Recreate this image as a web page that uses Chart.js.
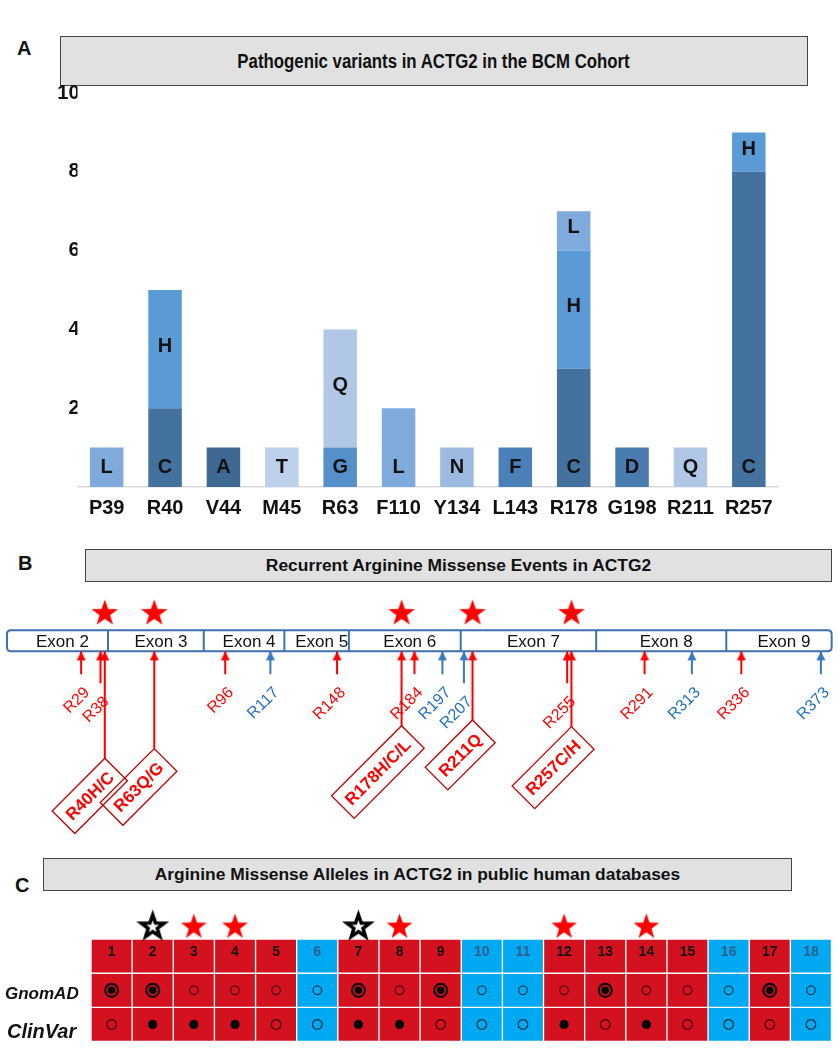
<!DOCTYPE html>
<html>
<head>
<meta charset="utf-8">
<script src="https://cdn.jsdelivr.net/npm/chart.js@4.4.1/dist/chart.umd.min.js"></script>
<style>
  body { margin: 0; width: 840px; height: 1050px; position: relative; background: #fff; overflow: hidden;
         font-family: "Liberation Sans", Arial, sans-serif; color: #111; }
  canvas { position: absolute; left: 0; }
  .panel { position: absolute; font-weight: bold; font-size: 20px; }
  .hdr { position: absolute; box-sizing: border-box; background: #e1e1e1; border: 1.5px solid #444;
         display: flex; align-items: center; justify-content: center; font-weight: bold; }
  .hdr span { display: inline-block; white-space: nowrap; }
  .row { position: absolute; font-weight: bold; font-style: italic; }
</style>
</head>
<body>
<div class="panel" style="left:17px;top:37px">A</div>
<div class="hdr" style="left:60px;top:36px;width:748px;height:50px;font-size:20px"><span style="transform:scaleX(0.84)">Pathogenic variants in ACTG2 in the BCM Cohort</span></div>
<canvas id="chartA" width="840" height="450" style="top:80px"></canvas>

<div class="panel" style="left:18px;top:552px">B</div>
<div class="hdr" style="left:85px;top:549px;width:747px;height:33px;font-size:17.4px">Recurrent Arginine Missense Events in ACTG2</div>
<canvas id="chartB" width="840" height="260" style="top:590px"></canvas>

<div class="panel" style="left:15px;top:874px">C</div>
<div class="hdr" style="left:43px;top:858px;width:749px;height:33px;font-size:17.4px">Arginine Missense Alleles in ACTG2 in public human databases</div>
<canvas id="chartC" width="840" height="155" style="top:895px"></canvas>
<div class="row" style="left:5px;top:984px;font-size:17px">GnomAD</div>
<div class="row" style="left:7px;top:1020px;font-size:20px">ClinVar</div>

<script>
// ---------- Panel A: variants in the BCM cohort ----------
const variantSites = ['P39', 'R40', 'V44', 'M45', 'R63', 'F110', 'Y134', 'L143', 'R178', 'G198', 'R211', 'R257'];
const layer1Counts = [1, 2, 1, 1, 1, 2, 1, 1, 3, 1, 1, 8];
const layer1Aa     = ['L', 'C', 'A', 'T', 'G', 'L', 'N', 'F', 'C', 'D', 'Q', 'C'];
const layer2Counts = [0, 3, 0, 0, 3, 0, 0, 0, 3, 0, 0, 1];
const layer2Aa     = ['', 'H', '', '', 'Q', '', '', '', 'H', '', '', 'H'];
const layer3Counts = [0, 0, 0, 0, 0, 0, 0, 0, 1, 0, 0, 0];
const layer3Aa     = ['', '', '', '', '', '', '', '', 'L', '', '', ''];

// ---------- Panel B: arginine positions along the exons ----------
const exonNames  = ['Exon 2', 'Exon 3', 'Exon 4', 'Exon 5', 'Exon 6', 'Exon 7', 'Exon 8', 'Exon 9'];
const exonBounds = [-5.5, 41.5, 86, 123.5, 153.5, 205.5, 268.5, 329, 378];
const argPositions = [29, 38, 40, 63, 96, 117, 148, 178, 184, 197, 207, 211, 255, 257, 291, 313, 336, 373];
const argGroup     = ['r', 'r', 'r', 'r', 'r', 'b', 'r', 'r', 'r', 'b', 'b', 'r', 'r', 'r', 'r', 'b', 'r', 'b'];
const stemLength   = [1, 1.4, 4.67, 4.25, 1, 1, 1, 3.25, 1, 1, 1.4, 3.0, 1.4, 3.29, 1, 1, 1, 1];
const recurrentPos   = [40, 63, 178, 211, 257];
const recurrentLabel = ['R40H/C', 'R63Q/G', 'R178H/C/L', 'R211Q', 'R257C/H'];

// ---------- Panel C: public databases ----------
const gnomadState  = ['ring', 'ring', 'open', 'open', 'open', 'open', 'ring', 'open', 'ring', 'open', 'open', 'open', 'ring', 'open', 'open', 'open', 'ring', 'open'];
const clinvarState = ['open', 'dot', 'dot', 'dot', 'open', 'open', 'dot', 'dot', 'open', 'open', 'open', 'dot', 'open', 'dot', 'open', 'open', 'open', 'open'];
const columnStar   = ['', 'outline', 'red', 'red', '', '', 'outline', 'red', '', '', '', 'red', '', 'red', '', '', '', ''];

const FONT = '"Liberation Sans", Arial, sans-serif';
const aaColour = {
  C: '#44729e', H: '#5b9bd5', L: '#7eaadc', A: '#3f6993', T: '#bdd1eb',
  G: '#5690cb', Q: '#b0c8e6', N: '#9cb9e0', F: '#4c80b9', D: '#4b7cb0', '': '#fff'
};
const RED = '#ff0000', BLUE = '#3b78c0';

// star and arrow-head images used as point styles
function makeStar(R, fill, stroke, lw) {
  lw = lw || 0;
  const size = Math.ceil(2 * R + 2 * lw + 2);
  const c = document.createElement('canvas');
  c.width = size; c.height = size;
  const g = c.getContext('2d');
  const cx = size / 2, cy = size / 2 + R * 0.09, r = R * 0.4;
  g.beginPath();
  for (let i = 0; i < 10; i++) {
    const a = -Math.PI / 2 + i * Math.PI / 5;
    const rr = i % 2 ? r : R;
    g.lineTo(cx + rr * Math.cos(a), cy + rr * Math.sin(a));
  }
  g.closePath();
  g.fillStyle = fill;
  g.fill();
  if (stroke) { g.lineWidth = lw; g.strokeStyle = stroke; g.lineJoin = 'miter'; g.stroke(); }
  return c;
}
function makeHead(colour) {
  const c = document.createElement('canvas');
  c.width = 10; c.height = 20;
  const g = c.getContext('2d');
  g.fillStyle = colour;
  g.beginPath(); g.moveTo(5, 10); g.lineTo(9.5, 19); g.lineTo(0.5, 19); g.closePath(); g.fill();
  return c;
}
const starB = makeStar(14, RED);
const starRedC = makeStar(13.5, RED);
const starOutlineC = makeStar(12, '#fff', '#000', 3.5);
const headImg = { r: makeHead(RED), b: makeHead(BLUE) };

// ---------- Chart A ----------
const letterPlugin = {
  id: 'letters',
  afterDatasetsDraw(chart) {
    const ctx = chart.ctx;
    ctx.save();
    ctx.font = 'bold 20px ' + FONT;
    ctx.fillStyle = '#111';
    ctx.textAlign = 'center';
    ctx.textBaseline = 'middle';
    chart.data.datasets.forEach((ds, di) => {
      chart.getDatasetMeta(di).data.forEach((bar, i) => {
        if (!ds.data[i]) return;
        const y = di === 0 ? bar.base - 20 : (bar.y + bar.base) / 2 - 3;
        ctx.fillText(ds.aa[i], bar.x, y);
      });
    });
    ctx.restore();
  }
};

new Chart(document.getElementById('chartA'), {
  type: 'bar',
  data: {
    labels: variantSites,
    datasets: [
      { data: layer1Counts, aa: layer1Aa, backgroundColor: layer1Aa.map(a => aaColour[a]) },
      { data: layer2Counts, aa: layer2Aa, backgroundColor: layer2Aa.map(a => aaColour[a]) },
      { data: layer3Counts, aa: layer3Aa, backgroundColor: layer3Aa.map(a => aaColour[a]) }
    ]
  },
  options: {
    responsive: false,
    animation: false,
    events: [],
    layout: { padding: { left: 0, right: 62, top: 13, bottom: 0 } },
    datasets: { bar: { categoryPercentage: 1, barPercentage: 0.574 } },
    plugins: { legend: { display: false }, tooltip: { enabled: false } },
    scales: {
      x: {
        stacked: true,
        grid: { display: false, drawTicks: false },
        border: { display: true, color: '#d9d9d9', width: 1.5 },
        ticks: { color: '#111', padding: 9, font: { family: FONT, size: 20, weight: 'bold' } },
        afterFit(s) { s.height = 43; }
      },
      y: {
        stacked: true, min: 0, max: 10,
        grid: { display: false, drawTicks: false },
        border: { display: false },
        ticks: {
          stepSize: 2, padding: -2, color: '#111',
          font: { family: FONT, size: 20, weight: 'bold' },
          callback: v => (v === 0 ? '' : v)
        },
        afterFit(s) { s.width = 77.5; }
      }
    }
  },
  plugins: [letterPlugin]
});

// ---------- Chart B ----------
const exonTop = -0.917;
const exonPlugin = {
  id: 'exons',
  beforeDatasetsDraw(chart) {
    const { ctx, scales: { x, y } } = chart;
    const top = y.getPixelForValue(exonTop), bot = y.getPixelForValue(0);
    const L = x.getPixelForValue(exonBounds[0]);
    const R = x.getPixelForValue(exonBounds[exonBounds.length - 1]);
    ctx.save();
    ctx.strokeStyle = '#3e70b2';
    ctx.lineWidth = 2;
    const rr = 4;
    ctx.beginPath();
    ctx.moveTo(L + rr, top); ctx.lineTo(R - rr, top); ctx.quadraticCurveTo(R, top, R, top + rr);
    ctx.lineTo(R, bot - rr); ctx.quadraticCurveTo(R, bot, R - rr, bot);
    ctx.lineTo(L + rr, bot); ctx.quadraticCurveTo(L, bot, L, bot - rr);
    ctx.lineTo(L, top + rr); ctx.quadraticCurveTo(L, top, L + rr, top);
    ctx.closePath();
    ctx.stroke();
    for (let i = 1; i < exonBounds.length - 1; i++) {
      const xp = x.getPixelForValue(exonBounds[i]);
      ctx.beginPath(); ctx.moveTo(xp, top); ctx.lineTo(xp, bot); ctx.stroke();
    }
    ctx.font = '17px ' + FONT;
    ctx.fillStyle = '#111';
    ctx.textAlign = 'center';
    ctx.textBaseline = 'middle';
    exonNames.forEach((n, i) => {
      const cx = (x.getPixelForValue(exonBounds[i]) + x.getPixelForValue(exonBounds[i + 1])) / 2 + 5;
      ctx.fillText(n, cx, (top + bot) / 2 + 1);
    });
    ctx.restore();
  },
  afterDatasetsDraw(chart) {
    const { ctx, scales: { x, y } } = chart;
    argPositions.forEach((p, i) => {
      const xp = x.getPixelForValue(p), ye = y.getPixelForValue(stemLength[i]);
      const k = recurrentPos.indexOf(p);
      ctx.save();
      if (k < 0) {
        ctx.translate(xp + 6, ye + 16);
        ctx.rotate(-Math.PI / 4);
        ctx.font = '16px ' + FONT;
        ctx.fillStyle = argGroup[i] === 'r' ? RED : '#1f6fc4';
        ctx.textAlign = 'right';
        ctx.textBaseline = 'middle';
        ctx.fillText('R' + p, 0, 0);
      } else {
        ctx.translate(xp, ye);
        ctx.rotate(-Math.PI / 4);
        ctx.font = 'bold 17px ' + FONT;
        const txt = recurrentLabel[k];
        const w = ctx.measureText(txt).width + 14, h = 32;
        ctx.strokeStyle = '#c00000';
        ctx.lineWidth = 1.3;
        ctx.strokeRect(-w, 0, w, h);
        ctx.fillStyle = RED;
        ctx.textAlign = 'center';
        ctx.textBaseline = 'middle';
        ctx.fillText(txt, -w / 2, h / 2 + 1);
      }
      ctx.restore();
    });
  }
};

const stemSets = argPositions.map((p, i) => ({
  data: [{ x: p, y: 0 }, { x: p, y: stemLength[i] }],
  showLine: true,
  borderColor: argGroup[i] === 'r' ? RED : BLUE,
  borderWidth: 2,
  pointRadius: [1, 0],
  pointStyle: headImg[argGroup[i]]
}));
stemSets.push({
  data: recurrentPos.map(p => ({ x: p, y: -1.71 })),
  showLine: false,
  pointRadius: 1,
  pointStyle: starB
});

new Chart(document.getElementById('chartB'), {
  type: 'scatter',
  data: { datasets: stemSets },
  options: {
    responsive: false,
    animation: false,
    events: [],
    layout: { padding: 0 },
    plugins: { legend: { display: false }, tooltip: { enabled: false } },
    scales: {
      x: { type: 'linear', display: false, min: -5.945, max: 379.09 },
      y: { type: 'linear', display: false, reverse: true, min: -2.41667, max: 8.41667 }
    }
  },
  plugins: [exonPlugin]
});

// ---------- Chart C ----------
const cellColour = argGroup.map(g => (g === 'r' ? '#d3111f' : '#00a9f1'));
const rowSet = () => ({
  type: 'bar', order: 10, yAxisID: 'y',
  data: argPositions.map(() => 1),
  backgroundColor: cellColour,
  borderColor: '#ffffff', borderWidth: 1, borderSkipped: false
});
const pick = (arr, key, v) => arr.map(s => (s === key ? v : null));
const mark = (data, extra) => Object.assign({
  type: 'line', order: 0, yAxisID: 'y2', showLine: false, data,
  pointBackgroundColor: 'rgba(0,0,0,0)', pointBorderColor: '#000', pointBorderWidth: 0
}, extra);

const numberPlugin = {
  id: 'numbers',
  afterDatasetsDraw(chart) {
    const ctx = chart.ctx;
    ctx.save();
    ctx.font = 'bold 14px ' + FONT;
    ctx.textAlign = 'center';
    ctx.textBaseline = 'middle';
    chart.getDatasetMeta(2).data.forEach((b, i) => {
      ctx.fillStyle = argGroup[i] === 'r' ? '#111' : '#2f5f8f';
      ctx.fillText(String(i + 1), b.x, (b.y + b.base) / 2 - 4);
    });
    ctx.restore();
  }
};

new Chart(document.getElementById('chartC'), {
  type: 'bar',
  data: {
    labels: argPositions.map(p => 'R' + p),
    datasets: [
      rowSet(), rowSet(), rowSet(),
      mark(pick(gnomadState, 'ring', 1.5), { pointRadius: 6.5, pointBorderWidth: 2 }),
      mark(pick(gnomadState, 'ring', 1.5), { pointRadius: 3.8, pointBackgroundColor: '#000' }),
      mark(pick(gnomadState, 'open', 1.5), { pointRadius: 4.3, pointBorderWidth: 1.1, pointBorderColor: 'rgba(0,0,0,0.75)' }),
      mark(pick(clinvarState, 'dot', 0.5), { pointRadius: 4.6, pointBackgroundColor: '#000' }),
      mark(pick(clinvarState, 'open', 0.5), { pointRadius: 4.8, pointBorderWidth: 1.2, pointBorderColor: 'rgba(0,0,0,0.75)' }),
      mark(pick(columnStar, 'red', 3.39), { pointRadius: 1, pointStyle: starRedC }),
      mark(pick(columnStar, 'outline', 3.39), { pointRadius: 1, pointStyle: starOutlineC })
    ]
  },
  options: {
    responsive: false,
    animation: false,
    events: [],
    layout: { padding: { left: 91, right: 7.7, top: 0, bottom: 0 } },
    datasets: { bar: { categoryPercentage: 1, barPercentage: 1 } },
    plugins: { legend: { display: false }, tooltip: { enabled: false } },
    scales: {
      x: { display: false, stacked: true },
      y: { display: false, stacked: true, min: 0, max: 4.043 },
      y2: { display: false, min: 0, max: 4.043 }
    }
  },
  plugins: [numberPlugin]
});
</script>
</body>
</html>
